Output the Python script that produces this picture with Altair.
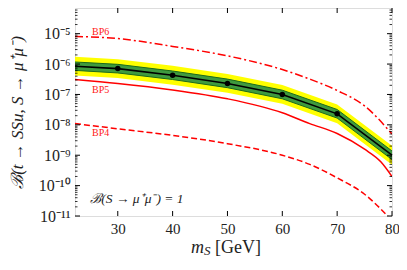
import altair as alt
import pandas as pd

# ---- data ----
m_c = [22.2, 30, 40, 50, 60, 70, 80]
central = [8.5e-7, 7.1e-7, 4.3e-7, 2.3e-7, 1.0e-7, 2.3e-8, 1.0e-9]
green_hi = [1.17e-6, 9.8e-7, 5.9e-7, 3.2e-7, 1.38e-7, 3.2e-8, 1.38e-9]
green_lo = [6.2e-7, 5.1e-7, 3.1e-7, 1.67e-7, 7.2e-8, 1.67e-8, 7.2e-10]
yellow_hi = [1.73e-6, 1.45e-6, 8.8e-7, 4.7e-7, 2.04e-7, 4.7e-8, 2.04e-9]
yellow_lo = [4.2e-7, 3.5e-7, 2.1e-7, 1.13e-7, 4.9e-8, 1.13e-8, 4.9e-10]

m_pts = [30, 40, 50, 60, 70]
pts = [7.1e-7, 4.3e-7, 2.3e-7, 1.0e-7, 2.3e-8]

m_bp6 = [22.2, 30, 40, 50, 60, 65, 70, 75, 80]
bp6 = [8.1e-6, 6.9e-6, 3.8e-6, 1.86e-6, 6.6e-7, 3.2e-7, 1.35e-7, 4.2e-8, 5.0e-9]
m_bp5 = [22.2, 30, 40, 50, 60, 65, 70, 75, 78, 80]
bp5 = [3.1e-7, 2.3e-7, 1.41e-7, 7.2e-8, 2.5e-8, 1.1e-8, 5.2e-9, 1.58e-9, 6.0e-10, 2.0e-10]
m_bp4 = [22.2, 30, 40, 50, 60, 65, 70, 75, 80]
bp4 = [1.1e-8, 7.4e-9, 4.5e-9, 2.4e-9, 1.0e-9, 5.0e-10, 1.8e-10, 5.2e-11, 7e-12]

bp_labels = ["BP6", "BP5", "BP4"]
bp_label_m = [25.3, 25.3, 25.3]
bp_label_y = [1.12e-5, 1.4e-7, 5.4e-9]

x_ticks = [30, 40, 50, 60, 70, 80]
y_major = [1e-11, 1e-10, 1e-9, 1e-8, 1e-7, 1e-6, 1e-5]
y_minor = [k * d for d in [1e-11, 1e-10, 1e-9, 1e-8, 1e-7, 1e-6, 1e-5] for k in range(2, 10)
           if k * d <= 7e-5]

W, H = 317, 208
FONT = "Liberation Serif"

band = pd.DataFrame({"m": m_c, "c": central, "ghi": green_hi, "glo": green_lo,
                     "yhi": yellow_hi, "ylo": yellow_lo})
pts_df = pd.DataFrame({"m": m_pts, "v": pts})
df6 = pd.DataFrame({"m": m_bp6, "v": bp6})
df5 = pd.DataFrame({"m": m_bp5, "v": bp5})
df4 = pd.DataFrame({"m": m_bp4, "v": bp4})
lab_df = pd.DataFrame({"m": bp_label_m, "v": bp_label_y, "t": bp_labels})

xs = alt.Scale(domain=[22.2, 80], nice=False, zero=False)
ys = alt.Scale(type="log", domain=[1e-11, 7e-5], nice=False)

sup = {-5: "⁻⁵", -6: "⁻⁶", -7: "⁻⁷", -8: "⁻⁸", -9: "⁻⁹", -10: "⁻¹⁰", -11: "⁻¹¹"}
expr = "''"
for e, s in sup.items():
    expr = f"round(log(datum.value)/LN10) == {e} ? '10{s}' : " + expr

x_axis = alt.Axis(values=x_ticks, ticks=False, domain=False, grid=False, labelFlush=False,
                  labelFont=FONT, labelFontSize=15, labelPadding=5, labelColor="#222",
                  title=None)
y_axis = alt.Axis(values=y_major, labelExpr=expr, ticks=False, domain=False, grid=False,
                  labelFlush=False,
                  labelFont=FONT, labelFontSize=16, labelPadding=5, labelColor="#222",
                  title="ℬ(t → SSu, S → μ⁺μ⁻)", titleFont=FONT, titleFontSize=17,
                  titleFontWeight="normal", titleFontStyle="italic", titleColor="#222",
                  titleX=-58, titleY=H / 2, titleBaseline="middle", titleAngle=-90)

base = alt.Chart(band)
yellow = base.mark_area(color="#ffff00", opacity=1).encode(
    x=alt.X("m:Q", scale=xs, axis=x_axis), y=alt.Y("yhi:Q", scale=ys, axis=y_axis), y2="ylo:Q")
green = base.mark_area(color="#3f9a3f", opacity=1).encode(
    x=alt.X("m:Q", scale=xs), y=alt.Y("ghi:Q", scale=ys), y2="glo:Q")
gedge_hi = base.mark_line(color="#1b6b1b", strokeWidth=1).encode(x="m:Q", y="ghi:Q")
gedge_lo = base.mark_line(color="#1b6b1b", strokeWidth=1).encode(x="m:Q", y="glo:Q")
cline = base.mark_line(color="black", strokeWidth=1.6).encode(x="m:Q", y="c:Q")
dots = alt.Chart(pts_df).mark_circle(color="black", size=30, opacity=1).encode(x="m:Q", y="v:Q")

l6 = alt.Chart(df6).mark_line(color="#ff0000", strokeWidth=1.5, strokeDash=[8, 3, 2, 3],
                              interpolate="monotone", clip=True).encode(x="m:Q", y="v:Q")
l5 = alt.Chart(df5).mark_line(color="#ff0000", strokeWidth=1.5,
                              interpolate="monotone", clip=True).encode(x="m:Q", y="v:Q")
l4 = alt.Chart(df4).mark_line(color="#ff0000", strokeWidth=1.5, strokeDash=[6, 3],
                              interpolate="monotone", clip=True).encode(x="m:Q", y="v:Q")

labels = alt.Chart(lab_df).mark_text(color="#ff2020", font=FONT, fontSize=10, align="left",
                                     baseline="middle").encode(x="m:Q", y="v:Q", text="t:N")
note = alt.Chart(pd.DataFrame({"m": [25.0], "v": [3.7e-11], "t": ["ℬ(S → μ⁺μ⁻) = 1"]})).mark_text(
    color="#222", font=FONT, fontSize=13.5, fontStyle="italic", align="left", baseline="middle"
).encode(x="m:Q", y="v:Q", text="t:N")

# x-axis title pieces (m italic, subscript S, [GeV] upright)
t_m = alt.Chart(pd.DataFrame({"t": ["m"]})).mark_text(
    font=FONT, fontSize=18, fontStyle="italic", color="#222", align="left", baseline="alphabetic"
).encode(x=alt.value(116), y=alt.value(H + 37), text="t:N")
t_s = alt.Chart(pd.DataFrame({"t": ["S"]})).mark_text(
    font=FONT, fontSize=13, fontStyle="italic", color="#222", align="left", baseline="alphabetic"
).encode(x=alt.value(129), y=alt.value(H + 39), text="t:N")
t_g = alt.Chart(pd.DataFrame({"t": ["[GeV]"]})).mark_text(
    font=FONT, fontSize=18, color="#222", align="left", baseline="alphabetic"
).encode(x=alt.value(140), y=alt.value(H + 37), text="t:N")

# inward ticks
xt = pd.DataFrame({"m": x_ticks})
xt_bot = alt.Chart(xt).mark_rule(color="black", strokeWidth=1).encode(
    x="m:Q", y=alt.value(H), y2=alt.value(H - 5))
xt_top = alt.Chart(xt).mark_rule(color="black", strokeWidth=1).encode(
    x="m:Q", y=alt.value(0), y2=alt.value(5))
ymaj = pd.DataFrame({"v": y_major})
ymin = pd.DataFrame({"v": y_minor})
yt_l = alt.Chart(ymaj).mark_rule(color="black", strokeWidth=1).encode(
    y="v:Q", x=alt.value(0), x2=alt.value(5))
yt_r = alt.Chart(ymaj).mark_rule(color="black", strokeWidth=1).encode(
    y="v:Q", x=alt.value(W), x2=alt.value(W - 5))
ym_l = alt.Chart(ymin).mark_rule(color="black", strokeWidth=0.8).encode(
    y="v:Q", x=alt.value(0), x2=alt.value(2.5))
ym_r = alt.Chart(ymin).mark_rule(color="black", strokeWidth=0.8).encode(
    y="v:Q", x=alt.value(W), x2=alt.value(W - 2.5))

chart = alt.layer(
    yellow, green, gedge_hi, gedge_lo, cline, dots, l6, l5, l4, labels, note,
    t_m, t_s, t_g,
    xt_bot, xt_top, yt_l, yt_r, ym_l, ym_r
).properties(
    width=W, height=H,
    autosize=alt.AutoSizeParams(type="none"),
    padding={"left": 67, "top": 0, "right": 7, "bottom": 46},
).configure_view(stroke="black", strokeWidth=1.2).configure(background="white")

chart.save("out.html", embed_options={"renderer": "svg", "actions": False})
